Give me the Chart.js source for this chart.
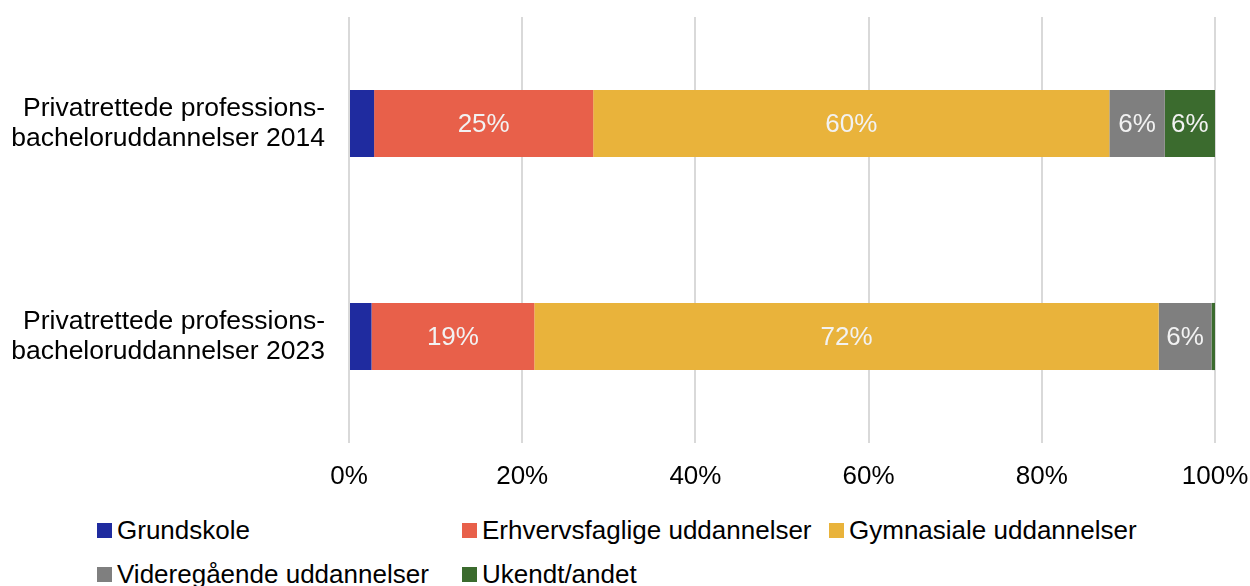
<!DOCTYPE html>
<html>
<head>
<meta charset="utf-8">
<script src="https://cdn.jsdelivr.net/npm/chart.js@4/dist/chart.umd.min.js"></script>
<style>
  body { margin:0; background:#fff; font-family:"Liberation Sans", Arial, sans-serif; }
  #wrap { position:relative; width:1250px; height:586px; }
  #legend { position:absolute; left:0; top:0; width:1250px; }
  .item { position:absolute; display:flex; align-items:center; font-size:26px; line-height:30px; color:#000; white-space:nowrap; }
  .box { width:15px; height:15px; margin-right:5px; }
</style>
</head>
<body>
<div id="wrap">
  <canvas id="chart" width="1250" height="500"></canvas>
  <div id="legend"></div>
</div>
<script>
const kategorier = [
  ['Privatrettede professions-', 'bacheloruddannelser 2014'],
  ['Privatrettede professions-', 'bacheloruddannelser 2023']
];
const serier = ['Grundskole', 'Erhvervsfaglige uddannelser', 'Gymnasiale uddannelser', 'Videregående uddannelser', 'Ukendt/andet'];
const grundskole   = [2.9, 2.6];
const erhverv      = [25.3, 18.8];
const gymnasiale   = [59.6, 72.1];
const videregaaende = [6.4, 6.1];
const ukendt       = [5.8, 0.4];
const farver = ['#1f2b9f', '#e8604a', '#e9b33b', '#7f7f7f', '#3b6b2e'];

const vaerdier = [grundskole, erhverv, gymnasiale, videregaaende, ukendt];

// labels inde i søjlerne
const labelPlugin = {
  id: 'barLabels',
  afterDatasetsDraw(chart) {
    const ctx = chart.ctx;
    ctx.save();
    ctx.font = '26px "Liberation Sans", Arial, sans-serif';
    ctx.fillStyle = '#f2f2f2';
    ctx.textAlign = 'center';
    ctx.textBaseline = 'middle';
    chart.data.datasets.forEach((ds, i) => {
      const meta = chart.getDatasetMeta(i);
      meta.data.forEach((bar, j) => {
        const v = ds.data[j];
        if (v < 5) return;
        const p = bar.getProps(['x', 'y', 'base'], true);
        ctx.fillText(Math.round(v) + '%', (p.x + p.base) / 2, p.y + 1);
      });
    });
    ctx.restore();
  }
};

Chart.defaults.font.family = '"Liberation Sans", Arial, sans-serif';
Chart.defaults.font.size = 26;
Chart.defaults.color = '#000';

new Chart(document.getElementById('chart'), {
  type: 'bar',
  data: {
    labels: kategorier,
    datasets: serier.map((s, i) => ({
      label: s,
      data: vaerdier[i],
      backgroundColor: farver[i],
      borderWidth: 0,
      categoryPercentage: 1,
      barPercentage: 0.315
    }))
  },
  options: {
    indexAxis: 'y',
    responsive: false,
    animation: false,
    layout: { padding: { top: 17, right: 35, left: 0, bottom: 0 } },
    plugins: { legend: { display: false }, tooltip: { enabled: false } },
    scales: {
      x: {
        stacked: true,
        min: 0, max: 100,
        ticks: { stepSize: 20, padding: 18, callback: v => v + '%' },
        grid: { color: '#d9d9d9', lineWidth: 2, drawTicks: false },
        border: { display: false },
        afterFit(scale) { scale.height = 57; scale.paddingLeft = 0; scale.paddingRight = 0; }
      },
      y: {
        stacked: true,
        grid: { display: false, drawTicks: false },
        border: { display: false },
        ticks: { padding: 24, font: { size: 26.5, lineHeight: 1.12 } },
        afterFit(scale) { scale.width = 349; scale.paddingTop = 0; scale.paddingBottom = 0; }
      }
    }
  },
  plugins: [labelPlugin]
});

// legende i to rækker
const legend = document.getElementById('legend');
const kolonner = [97, 462, 829];
serier.forEach((s, i) => {
  const el = document.createElement('div');
  el.className = 'item';
  el.style.left = kolonner[i % 3] + 'px';
  el.style.top = (i < 3 ? 515 : 559) + 'px';
  el.innerHTML = '<span class="box" style="background:' + farver[i] + '"></span>' + s;
  legend.appendChild(el);
});
</script>
</body>
</html>
